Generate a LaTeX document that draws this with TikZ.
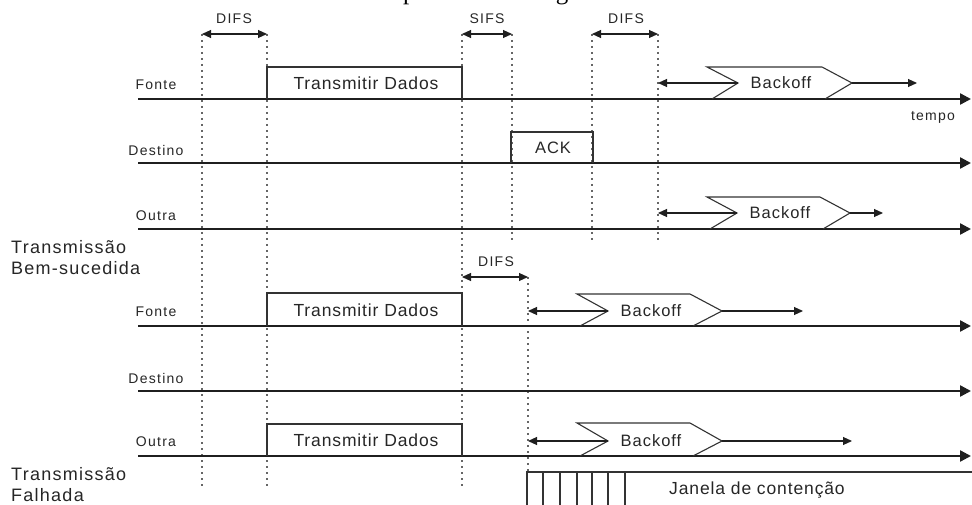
\documentclass[tikz,border=0pt]{standalone}
\usepackage{fontspec}
\setmainfont{Liberation Sans}
\newfontfamily\capserif{Liberation Serif}
\usetikzlibrary{arrows.meta}
\begin{document}
\begin{tikzpicture}[x=1pt,y=-1pt,
  tline/.style={line width=2.3pt, draw=black!88, -{Triangle[length=11pt,width=11pt]}},
  vdot/.style={draw=black!60, line width=1.7pt, dash pattern=on 1.8pt off 4.2pt},
  spanarr/.style={draw=black!88, line width=1.1pt, {Triangle[length=9pt,width=8pt]}-{Triangle[length=9pt,width=8pt]}},
  leftarr/.style={draw=black!88, line width=1.1pt, -{Triangle[length=9pt,width=8pt]}},
  rightarr/.style={draw=black!88, line width=1.1pt, -{Triangle[length=9pt,width=8pt]}},
  framebox/.style={draw=black!80, line width=1.1pt},
  lbl/.style={font=\fontsize{14}{16}\selectfont\addfontfeature{LetterSpace=9}, text=black!85, inner sep=0pt},
  midlbl/.style={font=\fontsize{16.5}{18}\selectfont\addfontfeature{LetterSpace=6}, text=black!85, inner sep=0pt},
  biglbl/.style={font=\fontsize{17.5}{20}\selectfont\addfontfeature{LetterSpace=5}, text=black!85, inner sep=0pt},
  sidelbl/.style={font=\fontsize{18}{21}\selectfont\addfontfeature{LetterSpace=7}, text=black!85, inner sep=0pt, anchor=west, align=left}
]
\useasboundingbox (0,0) rectangle (972,505);

% clipped caption line above the picture
\node[anchor=base west, inner sep=0pt, font=\capserif\fontsize{25}{28}\selectfont] (cap) at (383.6,-0.5) {representado a seguir};

% ---------- dotted vertical markers ----------
\coordinate (d1t) at (202,34);  \coordinate (d1b) at (202,488);
\coordinate (d2t) at (267,34);  \coordinate (d2b) at (267,488);
\coordinate (d3t) at (462,34);  \coordinate (d3b) at (462,488);
\coordinate (d4t) at (512,34);  \coordinate (d4b) at (512,242);
\coordinate (d5t) at (592,34);  \coordinate (d5b) at (592,242);
\coordinate (d6t) at (658,34);  \coordinate (d6b) at (658,242);
\coordinate (d7t) at (528,277); \coordinate (d7b) at (528,472);
\foreach \i in {1,...,7} \draw[vdot] (d\i t) -- (d\i b);

% ---------- interval arrows ----------
\draw[spanarr] (d1t) -- (d2t);
\node[lbl] (difs1) at (234,19) {DIFS};
\draw[spanarr] (d3t) -- (d4t);
\node[lbl] (sifs1) at (487,19) {SIFS};
\draw[spanarr] (d5t) -- (d6t);
\node[lbl] (difs2) at (626,19) {DIFS};
\draw[spanarr] (d7t) -- (462,277);
\node[lbl] (difs3) at (496,262) {DIFS};

% ---------- timelines ----------
\foreach \n/\y in {a/99,b/163,c/229,d/326,e/391,f/456}{
  \coordinate (s\n) at (138,\y);
  \coordinate (e\n) at (971,\y);
  \draw[tline] (s\n) -- (e\n);
}

% station labels
\node[lbl] (fonte1)   at (156,85)  {Fonte};
\node[lbl] (destino1) at (156,150) {Destino};
\node[lbl] (outra1)   at (156,216) {Outra};
\node[lbl] (fonte2)   at (156,312) {Fonte};
\node[lbl] (destino2) at (156,378) {Destino};
\node[lbl] (outra2)   at (156,442) {Outra};
\node[lbl] (tempo)    at (933,117) {tempo};

\node[sidelbl] (ok)   at (11,258) {Transmissão\\Bem-sucedida};
\node[sidelbl] (fail) at (11,485) {Transmissão\\Falhada};

% ---------- data boxes ----------
\draw[framebox] (267,99) |- (462,67) -- (462,99);
\node[biglbl] (tx1) at (366,83) {Transmitir Dados};
\draw[framebox] (267,326) |- (462,293) -- (462,326);
\node[biglbl] (tx2) at (366,310) {Transmitir Dados};
\draw[framebox] (267,456) |- (462,424) -- (462,456);
\node[biglbl] (tx3) at (366,440) {Transmitir Dados};

\draw[framebox] (511,163) |- (593,132) -- (593,163);
\node[midlbl] (ack) at (553,148) {ACK};

% ---------- backoff shapes ----------
% Fonte (success)
\coordinate (b1n) at (738,83); \coordinate (b1p) at (852,83);
\draw[framebox] (712,99) -- (b1n) -- (707,67) -- (822,67) -- (b1p) -- (825,99);
\node[midlbl] (bk1) at (781,83) {Backoff};
\draw[leftarr] (b1n) -- (658,83);
\draw[rightarr] (b1p) -- (917,83);
% Outra (success)
\coordinate (b2n) at (737,213); \coordinate (b2p) at (850,213);
\draw[framebox] (710,229) -- (b2n) -- (707,197) -- (820,197) -- (b2p) -- (823,229);
\node[midlbl] (bk2) at (780,213) {Backoff};
\draw[leftarr] (b2n) -- (658,213);
\draw[rightarr] (b2p) -- (883,213);
% Fonte (failure)
\coordinate (b3n) at (608,311); \coordinate (b3p) at (722,311);
\draw[framebox] (580,326) -- (b3n) -- (577,294) -- (690,294) -- (b3p) -- (693,326);
\node[midlbl] (bk3) at (651,311) {Backoff};
\draw[leftarr] (b3n) -- (528,311);
\draw[rightarr] (b3p) -- (803,311);
% Outra (failure)
\coordinate (b4n) at (608,441); \coordinate (b4p) at (722,441);
\draw[framebox] (580,456) -- (b4n) -- (577,423) -- (690,423) -- (b4p) -- (693,456);
\node[midlbl] (bk4) at (651,441) {Backoff};
\draw[leftarr] (b4n) -- (528,441);
\draw[rightarr] (b4p) -- (852,441);

% ---------- contention window ----------
\draw[framebox] (990,472) -- (527,472) -- (527,510);
\foreach \x in {543,560,577,592,608,625} \draw[framebox] (\x,472) -- (\x,510);
\node[biglbl] (janela) at (757,490) {Janela de contenção};
\end{tikzpicture}
\end{document}
